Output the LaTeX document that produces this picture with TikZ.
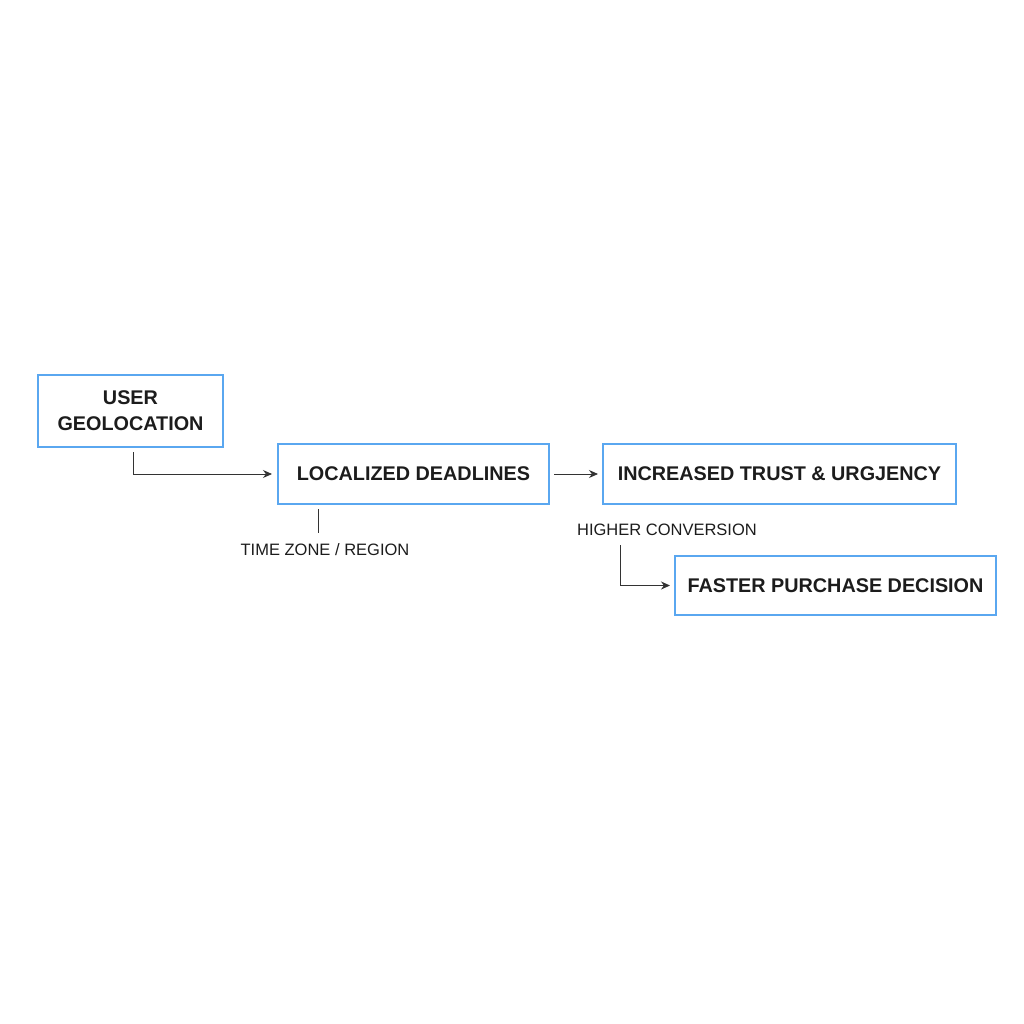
\documentclass[tikz,border=0pt]{standalone}
\usepackage{fontspec}
\setmainfont{Liberation Sans}
\usetikzlibrary{arrows.meta}
\definecolor{boxblue}{HTML}{5AA7F0}
\definecolor{ink}{HTML}{1C1C1C}
\definecolor{wire}{HTML}{333333}
\begin{document}
\begin{tikzpicture}[x=0.5pt,y=-0.5pt,
  stepbox/.style={draw=boxblue,line width=1pt,fill=white,text=ink,font=\fontsize{9.9}{13}\selectfont\bfseries,align=center,inner sep=0pt},
  lbl/.style={text=ink,font=\fontsize{8.25}{10}\selectfont,inner sep=0pt},
  wireline/.style={draw=wire,line width=0.45pt},
  arr/.style={wireline,-{Stealth[length=4.5pt,width=4pt]}}]
\useasboundingbox[fill=white] (0,0) rectangle (1024,1024);
\node[stepbox,minimum width=92.5pt,minimum height=36pt] (A) at (130.5,411) {USER\\GEOLOCATION};
\node[stepbox,minimum width=135.5pt,minimum height=30pt] (B) at (413.5,474) {LOCALIZED DEADLINES};
\node[stepbox,minimum width=176.5pt,minimum height=30pt] (C) at (779.5,474) {INCREASED TRUST \& URGJENCY};
\node[stepbox,minimum width=160.5pt,minimum height=29.5pt] (D) at (835.5,585.5) {FASTER PURCHASE DECISION};
\node[lbl] (tz) at (325,550) {TIME ZONE / REGION};
\node[lbl] (hc) at (667,530) {HIGHER CONVERSION};
\coordinate (a0) at (133,452);
\coordinate (tzt) at (318,533);
\coordinate (hc0) at (620,545);
\draw[arr,shorten >=2.5pt] (a0) |- (B.west);
\draw[arr,shorten <=2pt,shorten >=2pt] (B.east) -- (C.west);
\draw[wireline] (B.south -| tzt) ++(0,4) -- (tzt);
\draw[arr,shorten >=2pt] (hc0) |- (D.west);
\end{tikzpicture}
\end{document}
